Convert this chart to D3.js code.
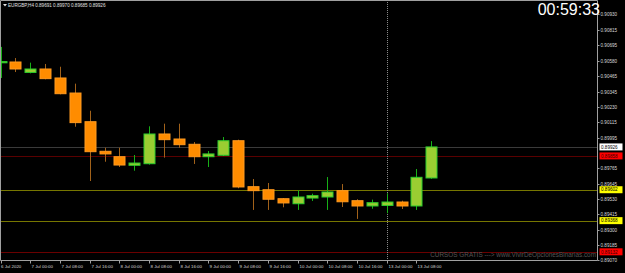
<!DOCTYPE html>
<html>
<head>
<meta charset="utf-8">
<script src="https://d3js.org/d3.v7.min.js"></script>
<style>
  html, body { margin: 0; padding: 0; background: #000; }
  svg { display: block; font-family: "Liberation Sans", Arial, sans-serif; }
</style>
</head>
<body>
<svg id="chart"></svg>
<script>
// EURGBP H4 candles, 6 Jul 16:00 .. 13 Jul 12:00
var opens  = [0.90566, 0.90569, 0.90490, 0.90516, 0.90448, 0.90334, 0.90117, 0.89893, 0.89852, 0.89787,
              0.89799, 0.90024, 0.89986, 0.89946, 0.89852, 0.89863, 0.89973, 0.89625, 0.89602, 0.89534,
              0.89496, 0.89539, 0.89547, 0.89595, 0.89519, 0.89479, 0.89483, 0.89509, 0.89479, 0.89691];
var highs  = [0.90683, 0.90599, 0.90564, 0.90554, 0.90533, 0.90405, 0.90200, 0.89920, 0.89920, 0.89865,
              0.90082, 0.90102, 0.90102, 0.89963, 0.89895, 0.90001, 0.89981, 0.89683, 0.89653, 0.89539,
              0.89598, 0.89572, 0.89698, 0.89645, 0.89530, 0.89527, 0.89575, 0.89519, 0.89759, 0.89970];
var lows   = [0.90448, 0.90493, 0.90483, 0.90438, 0.90324, 0.90079, 0.89668, 0.89814, 0.89774, 0.89746,
              0.89792, 0.89845, 0.89920, 0.89797, 0.89774, 0.89857, 0.89613, 0.89449, 0.89449, 0.89469,
              0.89449, 0.89517, 0.89449, 0.89471, 0.89381, 0.89458, 0.89424, 0.89456, 0.89449, 0.89685];
var closes = [0.90572, 0.90516, 0.90516, 0.90443, 0.90329, 0.90110, 0.89890, 0.89873, 0.89789, 0.89804,
              0.90024, 0.89981, 0.89943, 0.89852, 0.89873, 0.89973, 0.89623, 0.89595, 0.89530, 0.89502,
              0.89547, 0.89557, 0.89585, 0.89511, 0.89479, 0.89504, 0.89509, 0.89479, 0.89696, 0.89926];

// one time label every second bar
var timeLabels = ['6 Jul 2020', '7 Jul 00:00', '7 Jul 08:00', '7 Jul 16:00', '8 Jul 00:00', '8 Jul 08:00',
                  '8 Jul 16:00', '9 Jul 00:00', '9 Jul 08:00', '9 Jul 16:00', '10 Jul 00:00', '10 Jul 08:00',
                  '10 Jul 16:00', '13 Jul 00:00', '13 Jul 08:00'];

var priceTicks = [0.90930, 0.90815, 0.90695, 0.90580, 0.90465, 0.90345, 0.90230, 0.90115, 0.89995,
                  0.89765, 0.89645, 0.89530, 0.89415, 0.89300, 0.89185, 0.89070];

// horizontal levels drawn on the chart
var levelPrices = [0.89926, 0.89858, 0.89602, 0.89368, 0.89132];
var levelKinds  = ['bid', 'red', 'yellow', 'yellow', 'red2'];

var symbolTitle = 'EURGBP,H4  0.89691 0.89970 0.89685 0.89926';
var clockText = '00:59:33';
var watermark = 'CURSOS GRATIS ---> www.VivirDeOpcionesBinarias.com';
var separatorBar = 26;

var render = (selector) => {
  var W = 625, H = 273;
  var plotRight = 597.5, plotBottom = 260.5;

  var svg = d3.select(selector).attr('width', W).attr('height', H);
  svg.append('rect').attr('width', W).attr('height', H).attr('fill', '#000');

  /**
   * scales
   */
  var x = d3.scaleLinear().domain([0, opens.length - 1]).range([0.55, 431.2]);
  var y = d3.scaleLinear().domain([0.90815, 0.89070]).range([29.5, 260]);
  var BODY = 11;

  var plot = svg.append('g');

  /**
   * levels
   */
  var levelColor = { bid: '#3a3a3a', red: '#5a0000', yellow: '#767600', red2: '#6a0000' };
  var labelFill = { bid: '#ffffff', red: '#ff0000', yellow: '#ffff00', red2: '#ff0000' };

  levelPrices.forEach((p, i) => {
    plot.append('line')
      .attr('x1', 0).attr('x2', plotRight)
      .attr('y1', Math.round(y(p)) + 0.5).attr('y2', Math.round(y(p)) + 0.5)
      .attr('stroke', levelColor[levelKinds[i]]).attr('stroke-width', 1);
  });

  // period separator
  plot.append('line')
    .attr('x1', Math.round(x(separatorBar)) + 0.5).attr('x2', Math.round(x(separatorBar)) + 0.5)
    .attr('y1', 0).attr('y2', plotBottom + 2)
    .attr('stroke', '#8a8a8a').attr('stroke-dasharray', '1,1');

  /**
   * candles
   */
  var idx = d3.range(opens.length);
  var bar = plot.selectAll('g.bar')
    .data(idx)
    .enter().append('g')
      .attr('class', 'bar');

  bar.append('line')
    .attr('x1', i => Math.round(x(i)) + 0.5)
    .attr('x2', i => Math.round(x(i)) + 0.5)
    .attr('y1', i => y(highs[i]))
    .attr('y2', i => y(lows[i]))
    .attr('stroke', i => closes[i] >= opens[i] ? '#17b017' : '#a2621a')
    .attr('stroke-width', 1);

  bar.append('rect')
    .attr('x', i => Math.round(x(i)) + 0.5 - BODY / 2)
    .attr('y', i => y(Math.max(opens[i], closes[i])))
    .attr('width', BODY)
    .attr('height', i => Math.max(1.2, Math.abs(y(opens[i]) - y(closes[i]))))
    .attr('fill', i => closes[i] >= opens[i] ? '#9acd32' : '#ff8c00')
    .attr('stroke', i => closes[i] >= opens[i] ? '#2ccc2c' : '#ff9a20')
    .attr('stroke-width', 1);

  /**
   * frame
   */
  svg.append('path')
    .attr('d', `M0.5,${plotBottom} V0.5 H${plotRight} V${plotBottom} H0.5`)
    .attr('fill', 'none').attr('stroke', '#a0a0a0').attr('stroke-width', 1);

  /**
   * price axis
   */
  var yAxis = svg.append('g');
  yAxis.selectAll('g.tick')
    .data(priceTicks)
    .enter().append('g')
      .attr('class', 'tick')
      .each(function(p) {
        var g = d3.select(this);
        var yy = Math.round(y(p)) + 0.5;
        g.append('line').attr('x1', plotRight).attr('x2', plotRight + 2)
          .attr('y1', yy).attr('y2', yy).attr('stroke', '#a0a0a0');
        g.append('text').attr('x', plotRight + 3).attr('y', yy + 1.6)
          .attr('fill', '#d8d8d8').attr('font-size', 4.6).text(p.toFixed(5));
      });

  levelPrices.forEach((p, i) => {
    var yy = y(p);
    yAxis.append('rect')
      .attr('x', plotRight + 2).attr('y', yy - 3.5)
      .attr('width', 23).attr('height', 7)
      .attr('fill', labelFill[levelKinds[i]]);
    yAxis.append('text')
      .attr('x', plotRight + 3.5).attr('y', yy + 1.7)
      .attr('fill', levelKinds[i] === 'red' || levelKinds[i] === 'red2' ? '#3a0000' : '#000')
      .attr('font-size', 4.6).text(p.toFixed(5));
  });

  /**
   * time axis
   */
  var xAxis = svg.append('g');
  timeLabels.forEach((t, k) => {
    var xx = Math.round(x(k * 2)) + 0.5;
    xAxis.append('line').attr('x1', xx).attr('x2', xx)
      .attr('y1', plotBottom).attr('y2', plotBottom + 3).attr('stroke', '#a0a0a0');
    xAxis.append('text').attr('x', k === 0 ? 1 : xx + 1).attr('y', 267.5)
      .attr('fill', '#d8d8d8').attr('font-size', 4.4).text(t);
  });

  /**
   * texts
   */
  svg.append('path').attr('d', 'M3,4 L7,4 L5,6.5 Z').attr('fill', '#e0e0e0');
  svg.append('text').attr('x', 8).attr('y', 7)
    .attr('fill', '#e0e0e0').attr('font-size', 4.6).text(symbolTitle);

  svg.append('text').attr('x', 600).attr('y', 15.3)
    .attr('text-anchor', 'end').attr('fill', '#ffffff').attr('font-size', 16)
    .text(clockText);

  svg.append('text').attr('x', 596).attr('y', 257)
    .attr('text-anchor', 'end').attr('fill', '#555555').attr('font-size', 6.4)
    .text(watermark);
};

render('#chart');
</script>
</body>
</html>
